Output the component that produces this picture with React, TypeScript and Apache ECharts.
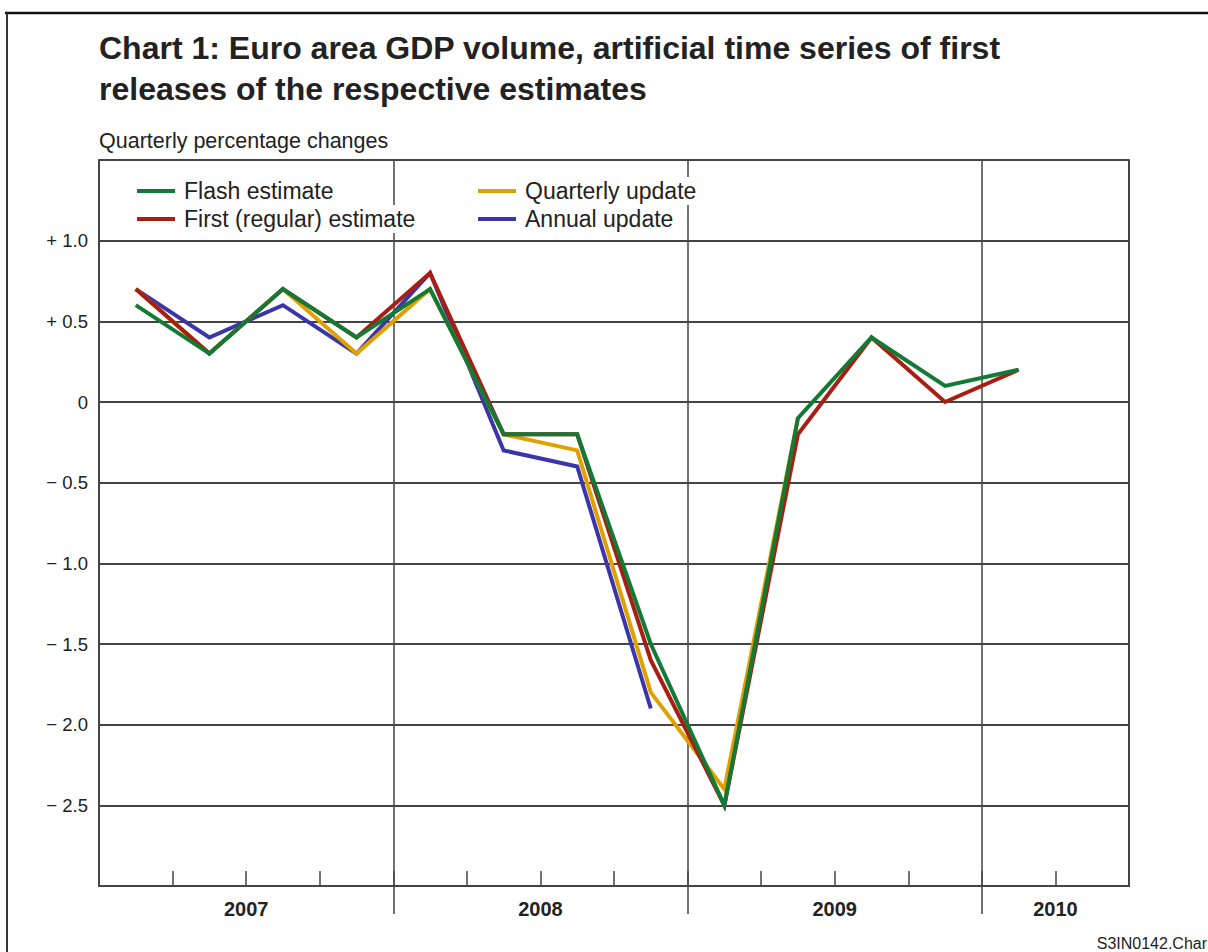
import React, { useEffect, useRef } from "react";
import * as echarts from "echarts";

const quarters = [
  "2007Q1", "2007Q2", "2007Q3", "2007Q4",
  "2008Q1", "2008Q2", "2008Q3", "2008Q4",
  "2009Q1", "2009Q2", "2009Q3", "2009Q4",
  "2010Q1", "2010Q2",
];
const flashEstimate = [0.6, 0.3, 0.7, 0.4, 0.7, -0.2, -0.2, -1.5, -2.5, -0.1, 0.4, 0.1, 0.2, null];
const firstEstimate = [0.7, 0.3, 0.7, 0.4, 0.8, -0.2, -0.2, -1.6, -2.5, -0.2, 0.4, 0.0, 0.2, null];
const quarterlyUpdate = [0.7, 0.3, 0.7, 0.3, 0.7, -0.2, -0.3, -1.8, -2.4, -0.1, null, null, null, null];
const annualUpdate = [0.7, 0.4, 0.6, 0.3, 0.8, -0.3, -0.4, -1.9, null, null, null, null, null, null];

const yearLabels = ["2007", "2008", "2009", "2010"];
const yearLabelPositions = [2, 6, 10, 13];
const yearBoundaries = [4, 8, 12];

const FONT = "'Liberation Sans', Arial, Helvetica, sans-serif";

export default function App() {
  const ref = useRef<HTMLDivElement>(null);
  useEffect(() => {
    if (!ref.current) return;
    const chart = echarts.init(ref.current, null, { renderer: "svg" });
    const lineSeries = (name: string, data: (number | null)[], color: string, z: number) => ({
      name,
      type: "line",
      data,
      xAxisIndex: 0,
      yAxisIndex: 0,
      symbol: "none",
      connectNulls: false,
      lineStyle: { color, width: 4, join: "miter" },
      itemStyle: { color },
      z,
    });
    const legendText = {
      fontFamily: FONT,
      fontSize: 23,
      color: "#222",
      backgroundColor: "#fff",
      padding: [3, 4, 3, 4],
      lineHeight: 22,
    };
    const legendCommon = {
      orient: "vertical",
      top: 177,
      icon: "rect",
      itemWidth: 38,
      itemHeight: 4,
      itemGap: 0,
      padding: 0,
      textStyle: legendText,
      selectedMode: false,
    };
    chart.setOption({
      animation: false,
      backgroundColor: "#fff",
      textStyle: { fontFamily: FONT },
      grid: { left: 99, right: 79, top: 160, bottom: 66, containLabel: false },
      legend: [
        { ...legendCommon, data: ["Flash estimate", "First (regular) estimate"], left: 137 },
        { ...legendCommon, data: ["Quarterly update", "Annual update"], left: 478 },
      ],
      xAxis: [
        {
          type: "category",
          data: quarters,
          boundaryGap: true,
          position: "bottom",
          axisLine: { show: true, onZero: false, lineStyle: { color: "#444", width: 2 } },
          axisTick: { show: true, inside: true, length: 15, interval: 0, lineStyle: { color: "#444", width: 1.5 } },
          axisLabel: { show: false },
          splitLine: {
            show: true,
            interval: (i: number) => i % 4 === 0,
            lineStyle: { color: "#444", width: 1.5 },
          },
        },
        {
          type: "value",
          min: 0,
          max: quarters.length,
          position: "bottom",
          axisLine: { show: false, onZero: false },
          axisTick: {
            show: true,
            customValues: yearBoundaries,
            length: 28,
            lineStyle: { color: "#444", width: 1.5 },
          },
          axisLabel: {
            show: true,
            customValues: yearLabelPositions,
            formatter: (v: number) => {
              const i = yearLabelPositions.indexOf(Math.round(v));
              return i >= 0 ? yearLabels[i] : "";
            },
            margin: 13,
            fontFamily: FONT,
            fontSize: 20,
            fontWeight: "bold",
            color: "#222",
          },
          splitLine: { show: false },
        },
      ],
      yAxis: [
        {
          type: "value",
          min: -3,
          max: 1.5,
          interval: 0.5,
          axisLine: { show: true, lineStyle: { color: "#444", width: 2 } },
          axisTick: { show: false },
          axisLabel: {
            margin: 11,
            fontFamily: FONT,
            fontSize: 18.5,
            color: "#222",
            formatter: (v: number) => {
              if (v > 1.01 || v < -2.51) return "";
              if (Math.abs(v) < 1e-9) return "0";
              return (v > 0 ? "+ " : "\u2212 ") + Math.abs(v).toFixed(1);
            },
          },
          splitLine: { show: true, lineStyle: { color: "#444", width: 2 } },
        },
        {
          type: "value",
          min: -3,
          max: 1.5,
          interval: 0.5,
          position: "right",
          axisLine: { show: true, lineStyle: { color: "#444", width: 2 } },
          axisTick: { show: false },
          axisLabel: { show: false },
          splitLine: { show: false },
        },
      ],
      graphic: [
        { type: "line", shape: { x1: 5, y1: 13, x2: 1208, y2: 13 }, style: { stroke: "#111", lineWidth: 2.5 } },
        { type: "line", shape: { x1: 7, y1: 13, x2: 7, y2: 952 }, style: { stroke: "#333", lineWidth: 2 } },
        {
          type: "text",
          left: 99,
          top: 27,
          style: {
            text: "Chart 1: Euro area GDP volume, artificial time series of first\nreleases of the respective estimates",
            font: `bold 32px ${FONT}`,
            lineHeight: 41,
            fill: "#222",
          },
        },
        {
          type: "text",
          left: 99,
          top: 130,
          style: { text: "Quarterly percentage changes", font: `21.5px ${FONT}`, fill: "#222" },
        },
        {
          type: "text",
          right: 1,
          top: 935,
          style: { text: "S3IN0142.Char", font: `16px ${FONT}`, fill: "#222" },
        },
      ],
      series: [
        lineSeries("Annual update", annualUpdate, "#3a35a8", 2),
        lineSeries("Quarterly update", quarterlyUpdate, "#dfa000", 3),
        lineSeries("First (regular) estimate", firstEstimate, "#a81e12", 4),
        lineSeries("Flash estimate", flashEstimate, "#137a35", 5),
      ],
    });
    return () => chart.dispose();
  }, []);
  return <div ref={ref} style={{ width: 1208, height: 952, position: "absolute", left: 0, top: 0 }} />;
}
